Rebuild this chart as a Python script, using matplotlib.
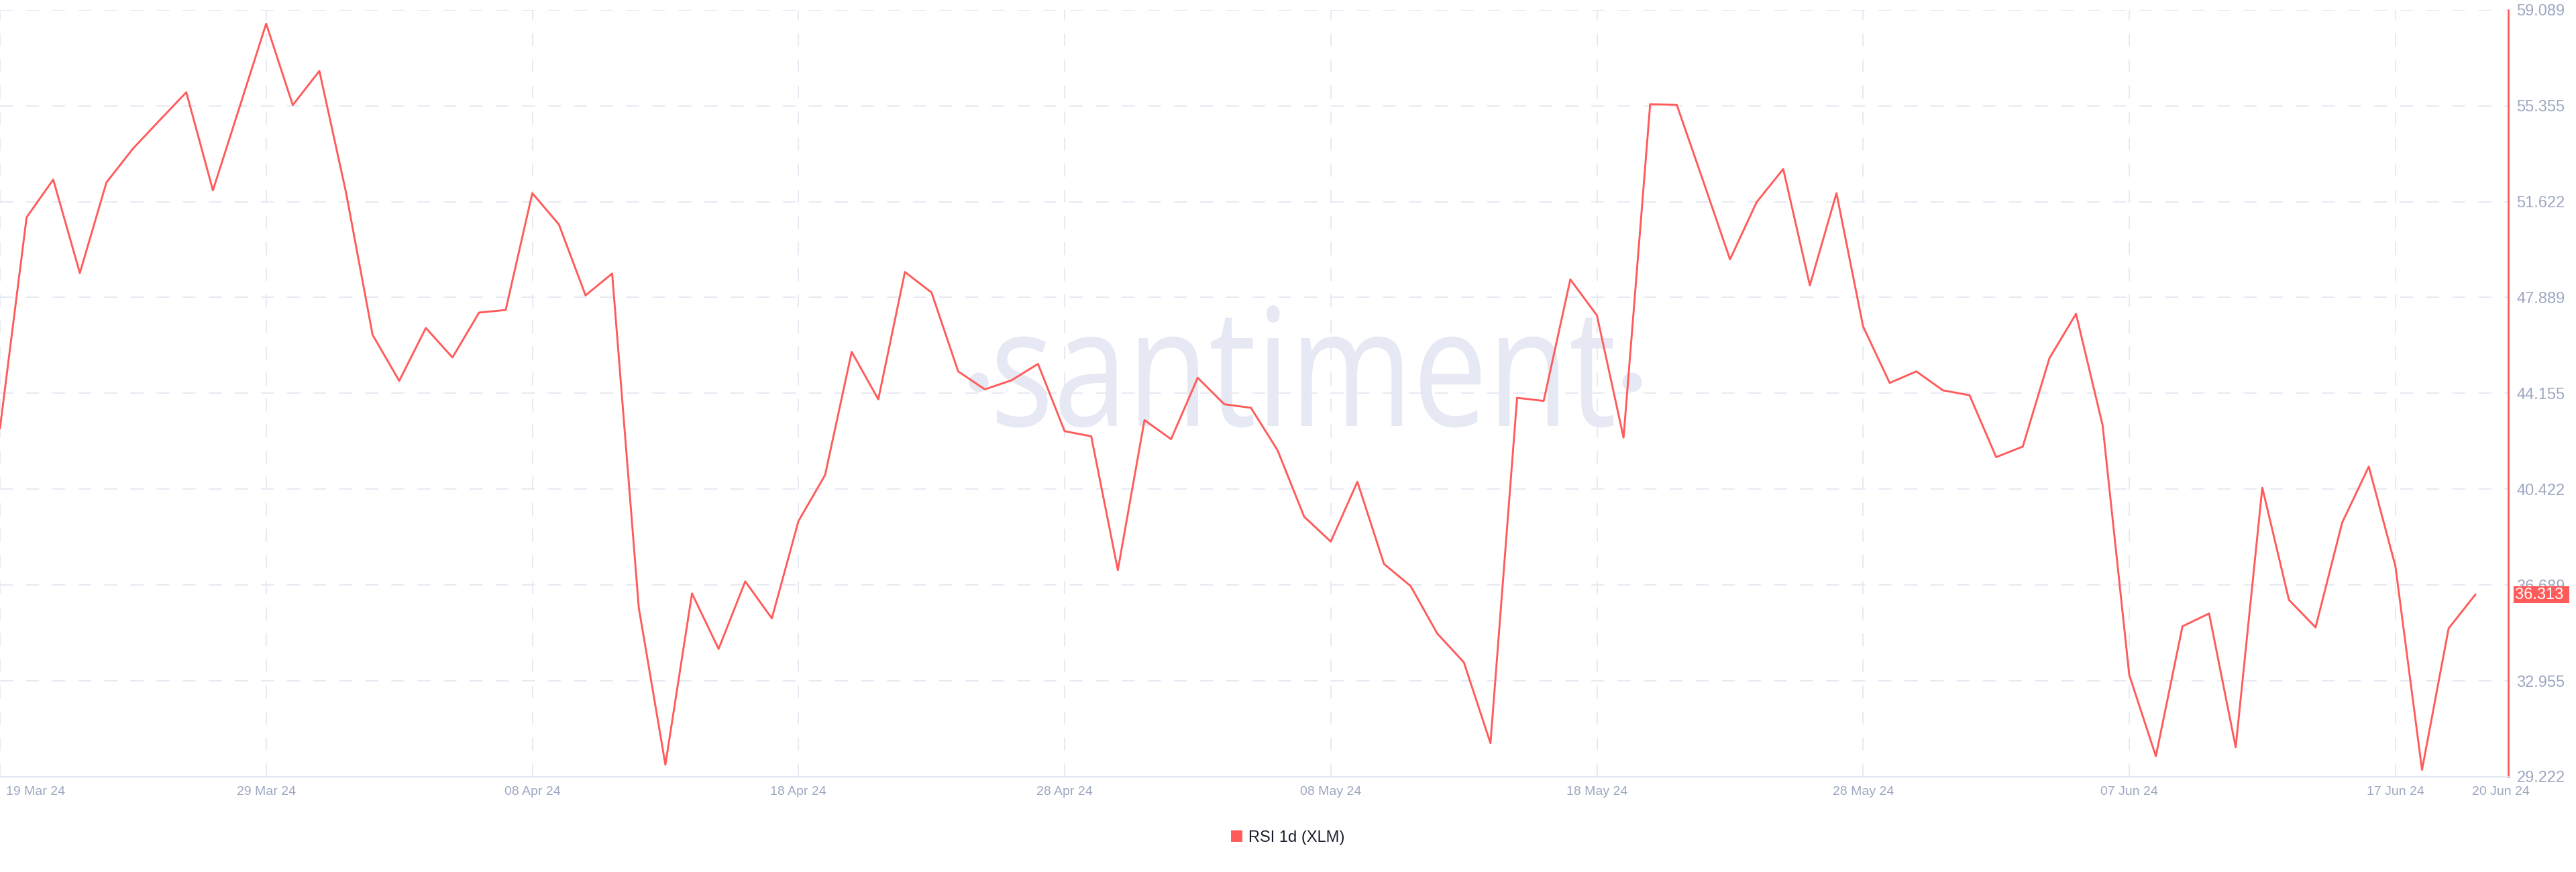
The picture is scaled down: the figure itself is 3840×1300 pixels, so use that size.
import numpy as np
import pandas as pd
import matplotlib
matplotlib.use("Agg")
import matplotlib.pyplot as plt
import matplotlib.transforms as mtransforms
from matplotlib.textpath import TextPath
from matplotlib.patches import PathPatch, Circle, Patch
from matplotlib.font_manager import FontProperties

# daily RSI 1d for XLM, 19 Mar 24 .. 20 Jun 24
start_date = "2024-03-19"
rsi = [42.8, 51.01, 52.48, 48.84, 52.37, 53.69, 54.79, 55.88, 52.06, 55.3,
       58.55, 55.38, 56.71, 51.98, 46.43, 44.64, 46.70, 45.55, 47.30, 47.40,
       51.95, 50.73, 47.97, 48.82, 35.81, 29.69, 36.36, 34.20, 36.83, 35.39,
       39.18, 40.97, 45.77, 43.92, 48.88, 48.08, 45.01, 44.31, 44.66, 45.30,
       42.68, 42.48, 37.27, 43.11, 42.37, 44.76, 43.73, 43.59, 41.94, 39.35,
       38.38, 40.71, 37.51, 36.65, 34.80, 33.68, 30.53, 43.98, 43.86, 48.59,
       47.19, 42.43, 55.41, 55.39, 52.40, 49.37, 51.60, 52.89, 48.36, 51.95,
       46.76, 44.56, 45.01, 44.27, 44.08, 41.67, 42.08, 45.52, 47.25, 42.91,
       33.19, 30.02, 35.08, 35.58, 30.37, 40.48, 36.11, 35.04, 39.12, 41.30,
       37.43, 29.49, 35.00, 36.313]
last_value = 36.313

y_ticks = [29.222, 32.955, 36.689, 40.422, 44.155, 47.889, 51.622, 55.355, 59.089]
x_tick_dates = ["2024-03-19", "2024-03-29", "2024-04-08", "2024-04-18", "2024-04-28",
                "2024-05-08", "2024-05-18", "2024-05-28", "2024-06-07", "2024-06-17"]
x_tick_labels = ["19 Mar 24", "29 Mar 24", "08 Apr 24", "18 Apr 24", "28 Apr 24",
                 "08 May 24", "18 May 24", "28 May 24", "07 Jun 24", "17 Jun 24"]
end_label = "20 Jun 24"
series_name = "RSI 1d (XLM)"

red = "#ff5b5b"
grid_c = "#e5e8f2"
tick_c = "#9ea8c2"

plt.rcParams["font.family"] = ["Liberation Sans", "DejaVu Sans"]
plt.rcParams["lines.scale_dashes"] = False

W, H, DPI = 3840, 1300, 100
fig = plt.figure(figsize=(W / DPI, H / DPI), dpi=DPI)
ax = fig.add_axes([0, 1 - 1158 / H, 3739 / W, (1158 - 14.7) / H])
ax.patch.set_alpha(0)

dates = pd.date_range(start_date, periods=len(rsi), freq="D")
t0 = dates[0]
ax.set_xlim(t0, t0 + pd.Timedelta(days=94.24))
ax.set_ylim(y_ticks[0], y_ticks[-1])

# watermark
fp = FontProperties(family=["Open Sans", "DejaVu Sans"])
tp = TextPath((0, 0), "santiment", size=1, prop=fp)
xh = TextPath((0, 0), "x", size=1, prop=fp).get_extents().height
ext = tp.get_extents()
sx = 919 / ext.width
sy = 131 / xh
tr = mtransforms.Affine2D().scale(sx / DPI, sy / DPI).translate(
    (1486 - ext.x0 * sx) / DPI, (H - 635) / DPI) + fig.dpi_scale_trans
ax.add_artist(PathPatch(tp, transform=tr, fc="#e6e9f3", ec="none", zorder=0.5))
for cx, cy in [(1459, 570), (2433, 570)]:
    ax.add_artist(Circle((cx / DPI, (H - cy) / DPI), 14.5 / DPI,
                         transform=fig.dpi_scale_trans, fc="#e6e9f3", ec="none", zorder=0.5))

ax.plot(dates, rsi, color=red, lw=2.1, zorder=3)

# axes styling
for s in ["left", "top"]:
    ax.spines[s].set_visible(False)
ax.spines["right"].set_color(red)
ax.spines["right"].set_linewidth(2.0)
ax.spines["bottom"].set_color("#e2e7f0")
ax.spines["bottom"].set_linewidth(1.6)

ax.yaxis.tick_right()
ax.set_yticks(y_ticks)
ax.set_yticklabels([f"{v:.3f}" for v in y_ticks])
ax.tick_params(axis="y", length=0, pad=9, labelsize=17, labelcolor=tick_c)

tick_pos = list(pd.to_datetime(x_tick_dates)) + [t0 + pd.Timedelta(days=93.95)]
ax.set_xticks(tick_pos)
ax.set_xticklabels(x_tick_labels + [end_label])
ax.tick_params(axis="x", length=0, pad=10, labelsize=14, labelcolor=tick_c)
first = ax.get_xticklabels()[0]
first.set_ha("left")
first.set_transform(first.get_transform() +
                    mtransforms.ScaledTranslation(9 / DPI, 0, fig.dpi_scale_trans))

ax.grid(True, color=grid_c, lw=1.3, ls=(0, (14, 14)))
ax.set_axisbelow(True)
ax.xaxis.get_gridlines()[-1].set_visible(False)
ax.yaxis.get_gridlines()[0].set_visible(False)

# last value tag
blend = mtransforms.blended_transform_factory(ax.transAxes, ax.transData)
ax.annotate(f"{last_value:.3f} ", xy=(1.0, last_value), xycoords=blend,
            xytext=(10, 0), textcoords="offset pixels", ha="left", va="center",
            fontsize=17, color="white", annotation_clip=False, zorder=5,
            bbox=dict(boxstyle="square,pad=0.08", fc=red, ec="none"))

fig.legend(handles=[Patch(facecolor=red, edgecolor="none")], labels=[series_name],
           loc="center", bbox_to_anchor=(0.5, 1 - 1249 / H), frameon=False,
           fontsize=17, handlelength=0.7, handleheight=0.7, handletextpad=0.4,
           labelcolor="#1b1f2c")

fig.savefig("out.png", dpi=DPI, facecolor="white")
